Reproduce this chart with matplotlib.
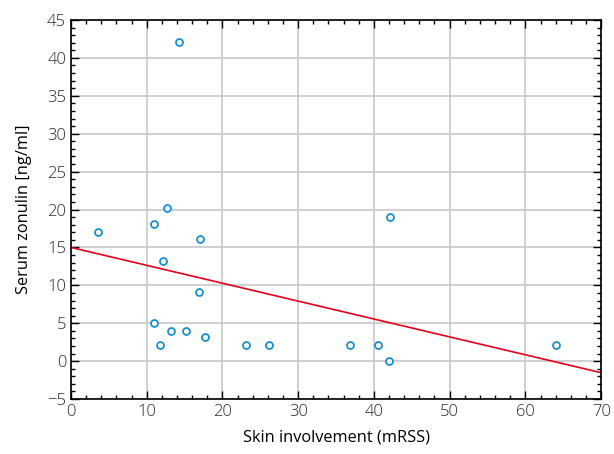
import numpy as np
import matplotlib.pyplot as plt
from matplotlib.ticker import MultipleLocator

# Data
mrss = [3.6, 11.0, 12.7, 17.0, 12.1, 16.9, 11.0, 11.7, 13.2, 15.2,
        17.7, 23.1, 26.2, 36.9, 42.1, 40.6, 42.0, 64.0, 14.3]
zonulin = [17.1, 18.1, 20.2, 16.1, 13.2, 9.1, 5.0, 2.1, 4.0, 4.0,
           3.2, 2.1, 2.1, 2.1, 19.05, 2.1, 0.05, 2.1, 42.1]

# Regression line as drawn
intercept = 15.0
slope = -0.236

plt.rcParams['font.family'] = ['Open Sans', 'DejaVu Sans']
plt.rcParams['font.weight'] = 'light'

fig = plt.figure(figsize=(6.14, 4.54), dpi=100)
ax = fig.add_axes([0.1156, 0.121, 0.8634, 0.835])

ax.grid(True, color='#c8c8c8', linewidth=1.2, zorder=0)
ax.set_axisbelow(True)

line_x = np.array([0, 70])
ax.plot(line_x, intercept + slope * line_x, color='#e3001b', linewidth=1.2, zorder=2)
ax.plot(mrss, zonulin, linestyle='none', marker='o', markersize=5,
        markerfacecolor='white', markeredgecolor='#1a8fd6', markeredgewidth=1.3, zorder=3)

ax.set_xlim(0, 70)
ax.set_ylim(-5, 45)
ax.xaxis.set_major_locator(MultipleLocator(10))
ax.xaxis.set_minor_locator(MultipleLocator(2))
ax.yaxis.set_major_locator(MultipleLocator(5))
ax.yaxis.set_minor_locator(MultipleLocator(1))
ax.tick_params(which='both', direction='in', top=True, right=True, width=1)
ax.tick_params(which='major', length=6, labelsize=12, labelcolor='#2a2a2a')
ax.tick_params(which='minor', length=3)
for s in ax.spines.values():
    s.set_linewidth(1.2)

ax.set_xlabel('Skin involvement (mRSS)', fontsize=11.8, fontweight='normal', labelpad=7)
ax.set_ylabel('Serum zonulin [ng/ml]', fontsize=11.8, fontweight='normal', labelpad=11)

fig.savefig('out.png', dpi=100)
